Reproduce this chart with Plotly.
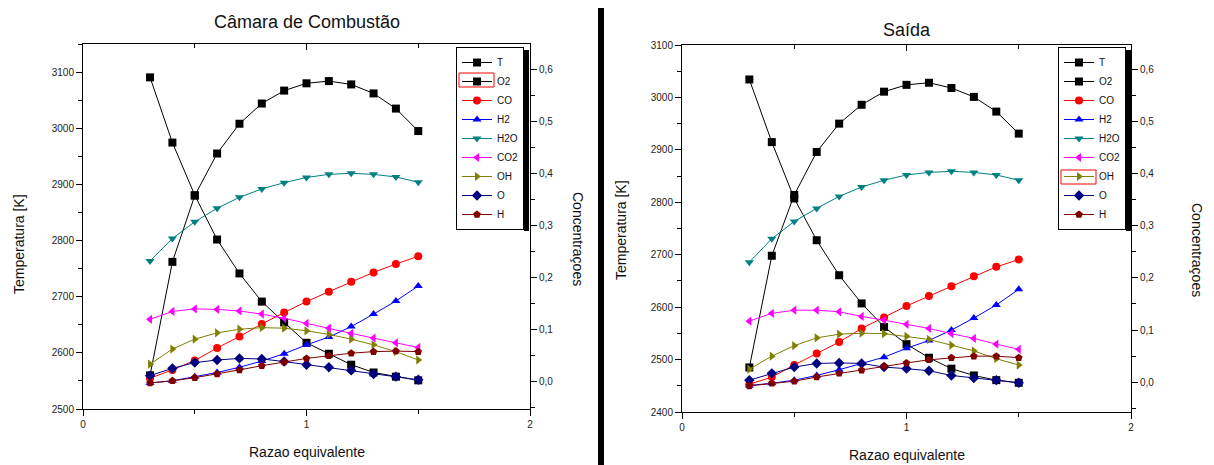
import plotly.graph_objects as go

# ---------------- data ----------------
phi = [0.3, 0.4, 0.5, 0.6, 0.7, 0.8, 0.9, 1.0, 1.1, 1.2, 1.3, 1.4, 1.5]
species = ["T", "O2", "CO", "H2", "H2O", "CO2", "OH", "O", "H"]

# Câmara de Combustão
cam_T   = [2560, 2762, 2880, 2955, 3008, 3044, 3067, 3080, 3084, 3078, 3062, 3035, 2995]
cam_O2  = [0.584, 0.459, 0.358, 0.273, 0.208, 0.154, 0.114, 0.075, 0.054, 0.033, 0.018, 0.010, 0.003]
cam_CO  = [0.007, 0.023, 0.041, 0.065, 0.087, 0.111, 0.133, 0.154, 0.173, 0.192, 0.210, 0.226, 0.241]
cam_H2  = [-0.002, 0.002, 0.010, 0.018, 0.028, 0.040, 0.054, 0.071, 0.086, 0.106, 0.130, 0.155, 0.184]
cam_H2O = [0.232, 0.275, 0.307, 0.333, 0.354, 0.370, 0.382, 0.392, 0.398, 0.400, 0.398, 0.393, 0.383]
cam_CO2 = [0.120, 0.135, 0.140, 0.139, 0.136, 0.130, 0.122, 0.112, 0.103, 0.093, 0.084, 0.075, 0.066]
cam_OH  = [0.034, 0.063, 0.082, 0.094, 0.101, 0.104, 0.103, 0.098, 0.091, 0.082, 0.071, 0.058, 0.042]
cam_O   = [0.012, 0.026, 0.037, 0.042, 0.045, 0.044, 0.039, 0.033, 0.028, 0.022, 0.015, 0.010, 0.004]
cam_H   = [-0.002, 0.002, 0.008, 0.015, 0.023, 0.031, 0.038, 0.045, 0.050, 0.055, 0.058, 0.059, 0.058]

# Saída
sai_T   = [2485, 2698, 2814, 2896, 2950, 2986, 3011, 3024, 3028, 3018, 3001, 2973, 2931]
sai_O2  = [0.580, 0.460, 0.352, 0.272, 0.205, 0.151, 0.106, 0.073, 0.047, 0.026, 0.013, 0.004, -0.001]
sai_CO  = [-0.004, 0.010, 0.033, 0.055, 0.077, 0.103, 0.124, 0.146, 0.165, 0.184, 0.203, 0.221, 0.235]
sai_H2  = [-0.006, -0.002, 0.004, 0.013, 0.024, 0.036, 0.048, 0.065, 0.080, 0.100, 0.123, 0.148, 0.178]
sai_H2O = [0.230, 0.275, 0.308, 0.333, 0.356, 0.374, 0.387, 0.397, 0.402, 0.404, 0.402, 0.397, 0.387]
sai_CO2 = [0.117, 0.132, 0.138, 0.138, 0.135, 0.126, 0.119, 0.111, 0.103, 0.093, 0.084, 0.073, 0.063]
sai_OH  = [0.025, 0.050, 0.070, 0.085, 0.092, 0.094, 0.093, 0.088, 0.082, 0.071, 0.060, 0.045, 0.033]
sai_O   = [0.004, 0.017, 0.029, 0.036, 0.037, 0.036, 0.029, 0.026, 0.022, 0.013, 0.008, 0.004, -0.001]
sai_H   = [-0.007, -0.002, 0.002, 0.010, 0.017, 0.023, 0.031, 0.037, 0.043, 0.047, 0.050, 0.050, 0.047]

x_ticks = [0, 1, 2]
titles = ["Câmara de Combustão", "Saída"]

# ---------------- styles ----------------
colors = {"T": "#000000", "O2": "#000000", "CO": "#FF0000", "H2": "#0000FF",
          "H2O": "#008080", "CO2": "#FF00FF", "OH": "#808000", "O": "#000080", "H": "#800000"}
symbols = {"T": "square", "O2": "square", "CO": "circle", "H2": "triangle-up",
           "H2O": "triangle-down", "CO2": "triangle-left", "OH": "triangle-right",
           "O": "diamond", "H": "pentagon"}

FONT = "Liberation Sans, Arial, sans-serif"
W, H = 1214, 465

def px(x):
    return x / W

def py(y):
    return 1 - y / H

fig = go.Figure()

datasets = [
    dict(T=cam_T, O2=cam_O2, CO=cam_CO, H2=cam_H2, H2O=cam_H2O, CO2=cam_CO2, OH=cam_OH, O=cam_O, H=cam_H),
    dict(T=sai_T, O2=sai_O2, CO=sai_CO, H2=sai_H2, H2O=sai_H2O, CO2=sai_CO2, OH=sai_OH, O=sai_O, H=sai_H),
]
axes = [("x", "y", "y2", "legend"), ("x2", "y3", "y4", "legend2")]

for d, (xa, ya_t, ya_c, lg) in zip(datasets, axes):
    for sp in species:
        fig.add_trace(go.Scatter(
            x=phi, y=d[sp], name=sp, mode="lines+markers",
            xaxis=xa, yaxis=ya_t if sp == "T" else ya_c,
            line=dict(color=colors[sp], width=1),
            marker=dict(symbol=symbols[sp], size=8, color=colors[sp]),
            legend=lg,
        ))

# dummy traces so the top tick axes are drawn
fig.add_trace(go.Scatter(x=[None], y=[None], xaxis="x3", yaxis="y", showlegend=False, hoverinfo="skip"))
fig.add_trace(go.Scatter(x=[None], y=[None], xaxis="x4", yaxis="y3", showlegend=False, hoverinfo="skip"))

tickfont = dict(family=FONT, size=10, color="#222")
common_x = dict(range=[0, 2], tickvals=x_ticks, ticks="outside", ticklen=6, showline=True,
                linecolor="black", linewidth=1, mirror=True, showgrid=False, zeroline=False,
                tickfont=tickfont, minor=dict(dtick=0.5, ticks="outside", ticklen=4, tickcolor="black"),
                tickcolor="black", automargin=False)
top_x = dict(range=[0, 2], tickvals=x_ticks, ticks="inside", ticklen=6, showline=False,
             showticklabels=False, showgrid=False, zeroline=False, side="top", tickcolor="black",
             minor=dict(dtick=0.5, ticks="inside", ticklen=4, tickcolor="black"), automargin=False)
common_yt = dict(ticks="outside", ticklen=6, dtick=100, showline=True, linecolor="black", linewidth=1,
                 showgrid=False, zeroline=False, tickfont=tickfont, tickcolor="black",
                 minor=dict(dtick=50, ticks="outside", ticklen=4, tickcolor="black"), automargin=False)
common_yc = dict(ticks="outside", ticklen=6, dtick=0.1, tick0=0, tickformat=".1f", showline=True,
                 linecolor="black", linewidth=1, showgrid=False, zeroline=False, side="right",
                 tickfont=tickfont, tickcolor="black",
                 minor=dict(dtick=0.05, ticks="outside", ticklen=4, tickcolor="black"), automargin=False)

dom_x1 = [px(83), px(530)]
dom_y1 = [py(409), py(44)]
dom_x2 = [px(682), px(1131)]
dom_y2 = [py(412), py(45)]

legend_common = dict(bgcolor="rgba(255,255,255,0)", bordercolor="black", borderwidth=1,
                     font=dict(family=FONT, size=10, color="#111"), tracegroupgap=0,
                     itemwidth=30, xanchor="right", yanchor="top")

fig.update_layout(
    width=W, height=H, margin=dict(l=0, r=0, t=0, b=0, autoexpand=False),
    paper_bgcolor="white", plot_bgcolor="white", separators=",.",
    font=dict(family=FONT),
    xaxis=dict(domain=dom_x1, anchor="y", **common_x),
    yaxis=dict(domain=dom_y1, anchor="x", range=[2500, 3150], **common_yt),
    yaxis2=dict(domain=dom_y1, anchor="x", overlaying="y", range=[-0.052, 0.648], **common_yc),
    xaxis3=dict(overlaying="x", anchor="y", **top_x),
    xaxis2=dict(domain=dom_x2, anchor="y3", **common_x),
    yaxis3=dict(domain=dom_y2, anchor="x2", range=[2400, 3100], **common_yt),
    yaxis4=dict(domain=dom_y2, anchor="x2", overlaying="y3", range=[-0.057, 0.646], **common_yc),
    xaxis4=dict(overlaying="x2", anchor="y3", **top_x),
    legend=dict(x=px(524), y=py(47), **legend_common),
    legend2=dict(x=px(1126), y=py(47), **legend_common),
)

ann_font = dict(family=FONT, size=14, color="#111")
annotations = [
    dict(text=titles[0], x=px(307), y=py(22), font=dict(family=FONT, size=18, color="#111")),
    dict(text=titles[1], x=px(907), y=py(30), font=dict(family=FONT, size=18, color="#111")),
    dict(text="Temperatura [K]", x=px(19), y=py(244), textangle=-90, font=ann_font),
    dict(text="Temperatura [K]", x=px(621), y=py(230), textangle=-90, font=ann_font),
    dict(text="Concentraçoes", x=px(578), y=py(239), textangle=90, font=ann_font),
    dict(text="Concentraçoes", x=px(1197), y=py(250), textangle=90, font=ann_font),
    dict(text="Razao equivalente", x=px(307), y=py(452), font=ann_font),
    dict(text="Razao equivalente", x=px(907), y=py(455), font=ann_font),
]
for a in annotations:
    fig.add_annotation(xref="paper", yref="paper", showarrow=False, xanchor="center", yanchor="middle", **a)

# separator bar between the two panels
fig.add_shape(type="line", xref="paper", yref="paper", x0=px(601), x1=px(601), y0=py(8), y1=py(465),
              line=dict(color="black", width=6))

# legend backgrounds, drop shadows (right edge) and selection highlight boxes
for xl, xr in ((457, 524), (1059, 1126)):
    fig.add_shape(type="rect", xref="paper", yref="paper", x0=px(xl), x1=px(xr),
                  y0=py(231), y1=py(47), fillcolor="white", line=dict(width=0), layer="above")
    fig.add_shape(type="rect", xref="paper", yref="paper", x0=px(xr), x1=px(xr + 5),
                  y0=py(231), y1=py(50), fillcolor="black", line=dict(width=0), layer="above")
fig.add_shape(type="rect", xref="paper", yref="paper", x0=px(459), x1=px(494), y0=py(87), y1=py(73),
              line=dict(color="red", width=1), layer="above")
fig.add_shape(type="rect", xref="paper", yref="paper", x0=px(1061), x1=px(1096), y0=py(184), y1=py(170),
              line=dict(color="red", width=1), layer="above")

fig.write_html("out.html", post_script="document.body.style.margin='0';",
               config={"displayModeBar": False})
